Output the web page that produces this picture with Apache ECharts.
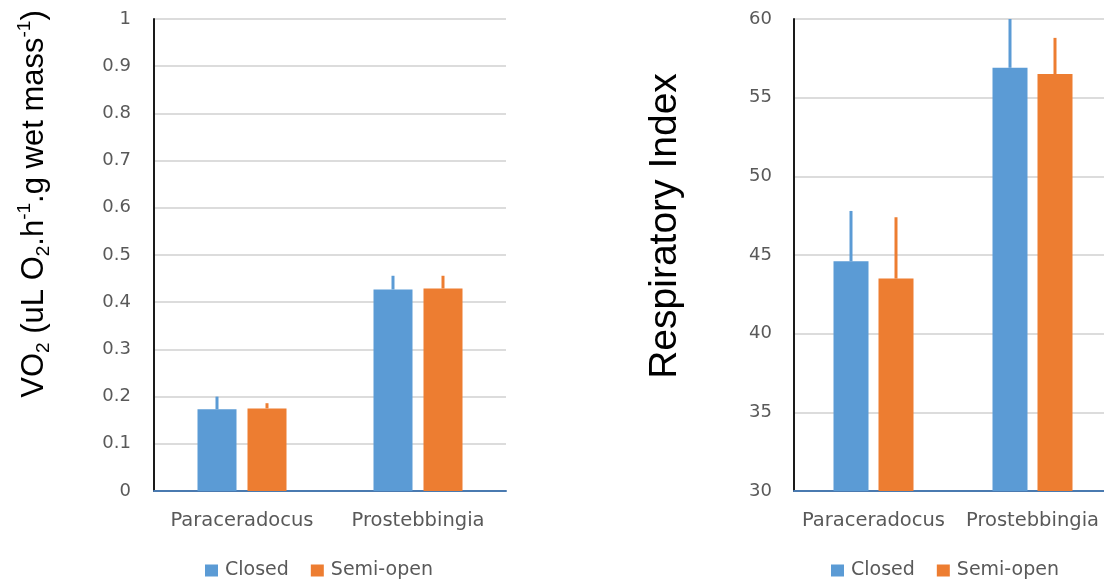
<!DOCTYPE html>
<html>
<head>
<meta charset="utf-8">
<script src="https://cdn.jsdelivr.net/npm/echarts@6/dist/echarts.min.js"></script>
<style>
html,body{margin:0;padding:0;background:#fff;}
#chart{width:1104px;height:579px;}
</style>
</head>
<body>
<div id="chart"></div>
<script>
const categories = ['Paraceradocus', 'Prostebbingia'];
const seriesNames = ['Closed', 'Semi-open'];

const vo2Closed = [0.173, 0.427];
const vo2ClosedUpper = [0.200, 0.456];
const vo2Semi = [0.175, 0.429];
const vo2SemiUpper = [0.186, 0.456];

const riClosed = [44.6, 56.9];
const riClosedUpper = [47.8, 60.0];
const riSemi = [43.5, 56.5];
const riSemiUpper = [47.4, 58.8];

const BLUE = '#5b9bd5';
const ORANGE = '#ed7d31';
const LABEL = '#595959';
const FONT = 'DejaVu Sans';

const chart = echarts.init(document.getElementById('chart'), null, {renderer: 'canvas'});

function errSeries(name, idx, vals, uppers, color, offset) {
  return {
    type: 'custom', name: name, xAxisIndex: idx, yAxisIndex: idx, z: 3,
    data: categories.map((c, i) => [i, vals[i], uppers[i]]),
    renderItem: function (params, api) {
      const p0 = api.coord([api.value(0), api.value(1)]);
      const p1 = api.coord([api.value(0), api.value(2)]);
      const x = p0[0] + offset;
      return {type: 'line', shape: {x1: x, y1: p0[1], x2: x, y2: p1[1]},
              style: {stroke: color, lineWidth: 3}};
    }
  };
}

function xAxisCfg(idx) {
  return {
    type: 'category', gridIndex: idx, data: categories,
    axisLine: {lineStyle: {color: '#4a7ab0', width: 2}},
    axisTick: {show: false},
    axisLabel: {color: LABEL, fontFamily: FONT, fontSize: 19.5, margin: 20, interval: 0,
                showMinLabel: true, showMaxLabel: true, hideOverlap: false}
  };
}
function yAxisCfg(idx, min, max, interval, margin) {
  return {
    type: 'value', gridIndex: idx, min: min, max: max, interval: interval,
    axisLine: {show: true, lineStyle: {color: '#1a1a1a', width: 2}},
    axisTick: {show: false},
    splitLine: {lineStyle: {color: '#dcdcdc', width: 2}},
    axisLabel: {color: LABEL, fontFamily: FONT, fontSize: 18, margin: margin}
  };
}

const LBW = 39, LGAP = 11, RBW = 35, RGAP = 10;

const legendText = {color: LABEL, fontFamily: FONT, fontSize: 19, padding: [0, 0, 0, 2]};

const option = {
  animation: false,
  backgroundColor: '#fff',
  grid: [
    {left: 154, top: 19, width: 352, height: 472, outerBoundsMode: 'none', containLabel: false},
    {left: 794, top: 19, width: 318, height: 472, outerBoundsMode: 'none', containLabel: false}
  ],
  xAxis: [xAxisCfg(0), xAxisCfg(1)],
  yAxis: [yAxisCfg(0, 0, 1, 0.1, 23), yAxisCfg(1, 30, 60, 5, 22)],
  legend: [
    {data: seriesNames, left: 200, top: 556, icon: 'rect', itemWidth: 13, itemHeight: 12, itemGap: 22,
     textStyle: legendText},
    {data: seriesNames, left: 826, top: 556, icon: 'rect', itemWidth: 13, itemHeight: 12, itemGap: 22,
     textStyle: legendText}
  ],
  series: [
    {type: 'bar', name: seriesNames[0], xAxisIndex: 0, yAxisIndex: 0, data: vo2Closed,
     barWidth: LBW, barGap: (LGAP / LBW * 100) + '%', itemStyle: {color: BLUE}},
    {type: 'bar', name: seriesNames[1], xAxisIndex: 0, yAxisIndex: 0, data: vo2Semi,
     barWidth: LBW, barGap: (LGAP / LBW * 100) + '%', itemStyle: {color: ORANGE}},
    {type: 'bar', name: seriesNames[0], xAxisIndex: 1, yAxisIndex: 1, data: riClosed,
     barWidth: RBW, barGap: (RGAP / RBW * 100) + '%', itemStyle: {color: BLUE}},
    {type: 'bar', name: seriesNames[1], xAxisIndex: 1, yAxisIndex: 1, data: riSemi,
     barWidth: RBW, barGap: (RGAP / RBW * 100) + '%', itemStyle: {color: ORANGE}},
    errSeries('err-closed-vo2', 0, vo2Closed, vo2ClosedUpper, BLUE, -(LBW + LGAP) / 2),
    errSeries('err-semi-vo2', 0, vo2Semi, vo2SemiUpper, ORANGE, (LBW + LGAP) / 2),
    errSeries('err-closed-ri', 1, riClosed, riClosedUpper, BLUE, -(RBW + RGAP) / 2),
    errSeries('err-semi-ri', 1, riSemi, riSemiUpper, ORANGE, (RBW + RGAP) / 2)
  ],
  graphic: [
    {type: 'text', x: 34, y: 204, rotation: Math.PI / 2,
     style: {
       text: 'VO{sub|2} (uL O{sub|2}.h{sup|-1}.g wet mass{sup|-1})',
       fontFamily: 'Liberation Sans', fontSize: 31, fill: '#000', lineHeight: 38,
       align: 'center', verticalAlign: 'middle',
       rich: {
         sub: {fontFamily: 'Liberation Sans', fontSize: 19, fill: '#000', verticalAlign: 'bottom', lineHeight: 19},
         sup: {fontFamily: 'Liberation Sans', fontSize: 19, fill: '#000', verticalAlign: 'top', lineHeight: 19}
       }
     }},
    {type: 'text', x: 665, y: 226, rotation: Math.PI / 2,
     style: {text: 'Respiratory Index', fontFamily: 'Liberation Sans', fontSize: 39, fill: '#000',
             align: 'center', verticalAlign: 'middle'}}
  ]
};
chart.setOption(option);
</script>
</body>
</html>
